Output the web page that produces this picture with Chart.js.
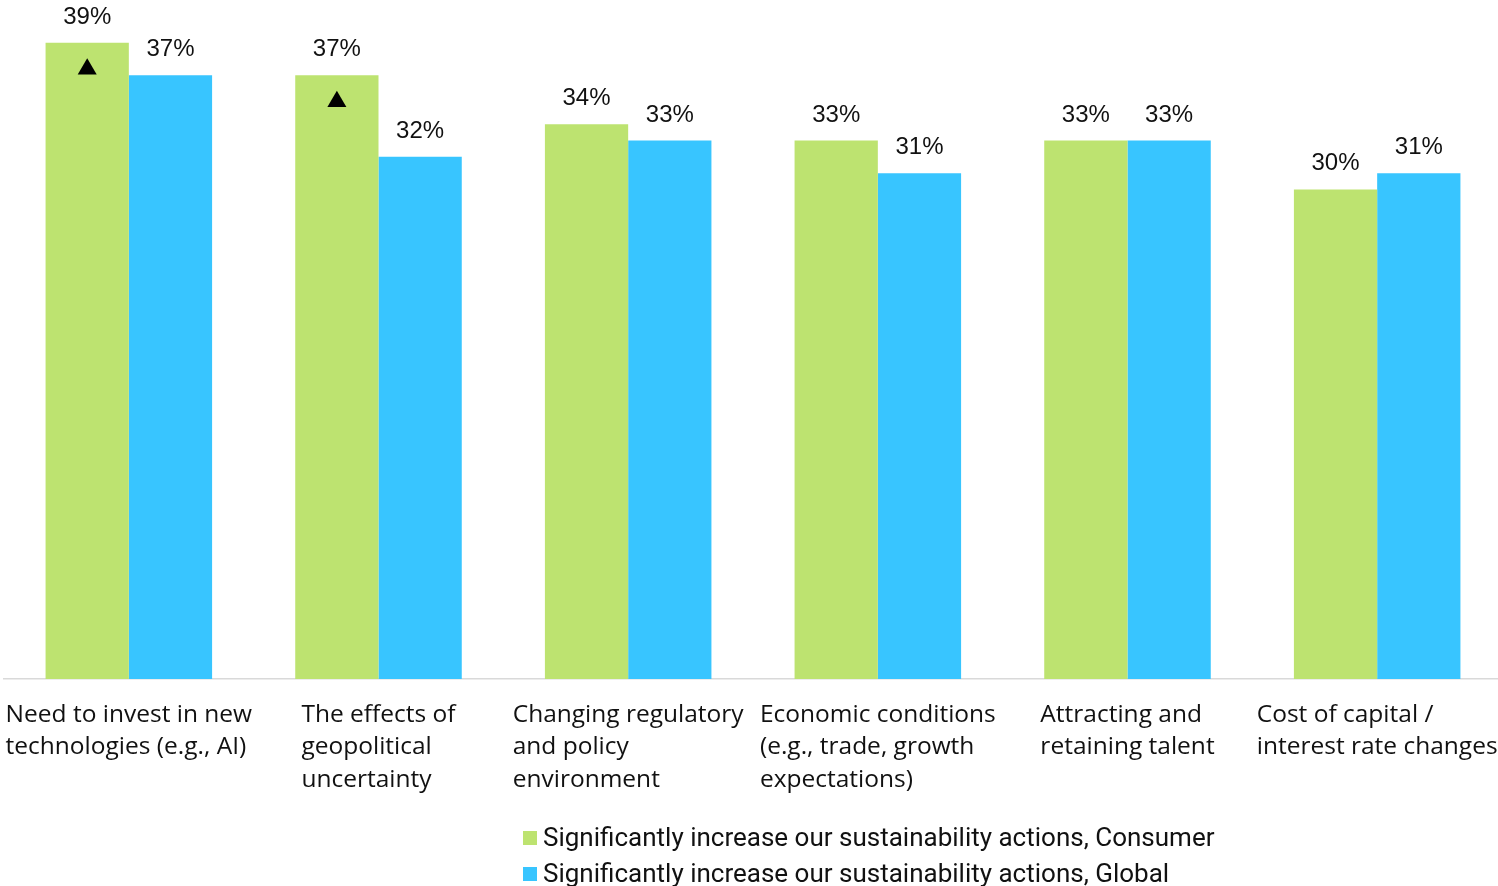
<!DOCTYPE html>
<html>
<head>
<meta charset="utf-8">
<script src="https://cdn.jsdelivr.net/npm/chart.js@4.4.1/dist/chart.umd.min.js"></script>
<style>
  html, body { margin: 0; padding: 0; background: #ffffff; overflow: hidden; }
  #wrap { position: relative; width: 1506px; height: 886px; }
</style>
</head>
<body>
<div id="wrap"><canvas id="chart" width="1506" height="886"></canvas></div>
<script>
// Category labels, one entry per line of text
const categories = [
  ["Need to invest in new", "technologies (e.g., AI)"],
  ["The effects of", "geopolitical", "uncertainty"],
  ["Changing regulatory", "and policy", "environment"],
  ["Economic conditions", "(e.g., trade, growth", "expectations)"],
  ["Attracting and", "retaining talent"],
  ["Cost of capital /", "interest rate changes"]
];
const seriesNames = [
  "Significantly increase our sustainability actions, Consumer",
  "Significantly increase our sustainability actions, Global"
];
const consumerValues = [39, 37, 34, 33, 33, 30];
const globalValues = [37, 32, 33, 31, 33, 31];
// Consumer results significantly higher than Global
const consumerHigher = [true, true, false, false, false, false];

const GREEN = "#BDE370";
const BLUE = "#38C5FF";
const TEXT = "#111111";
const LABEL_FONT = "24px 'Liberation Sans', Arial, sans-serif";
const CAT_FONT = "24.5px 'Open Sans', sans-serif";
const LEGEND_FONT = "26px 'Roboto', sans-serif";

const annotate = {
  id: "annotate",
  afterDatasetsDraw(chart) {
    const ctx = chart.ctx;
    ctx.save();
    // value labels above bars
    ctx.font = LABEL_FONT;
    ctx.fillStyle = TEXT;
    ctx.textAlign = "center";
    ctx.textBaseline = "alphabetic";
    chart.data.datasets.forEach((ds, di) => {
      const meta = chart.getDatasetMeta(di);
      meta.data.forEach((bar, i) => {
        ctx.fillText(ds.data[i] + "%", bar.x, bar.y - 19);
      });
    });
    // significance markers inside Consumer bars
    const cMeta = chart.getDatasetMeta(0);
    cMeta.data.forEach((bar, i) => {
      if (!consumerHigher[i]) return;
      const top = bar.y + 15.5, h = 16.3, w = 19;
      ctx.beginPath();
      ctx.moveTo(bar.x, top);
      ctx.lineTo(bar.x + w / 2, top + h);
      ctx.lineTo(bar.x - w / 2, top + h);
      ctx.closePath();
      ctx.fillStyle = "#000000";
      ctx.fill();
    });
    // category labels: block centred on category, lines left-aligned
    const xs = chart.scales.x;
    const base = chart.chartArea.bottom;
    ctx.font = CAT_FONT;
    ctx.fillStyle = TEXT;
    ctx.textAlign = "left";
    categories.forEach((lines, i) => {
      const cx = xs.getPixelForValue(i);
      const maxW = Math.max(...lines.map(l => ctx.measureText(l).width));
      const left = cx - maxW / 2;
      lines.forEach((line, li) => {
        ctx.fillText(line, left, base + 42.5 + li * 32.5);
      });
    });
    // legend, two rows
    const colors = [GREEN, BLUE];
    ctx.font = LEGEND_FONT;
    ctx.textBaseline = "middle";
    seriesNames.forEach((name, k) => {
      const cy = 838 + k * 36;
      ctx.fillStyle = colors[k];
      ctx.fillRect(523, cy - 7, 14, 14);
      ctx.fillStyle = TEXT;
      ctx.fillText(name, 543, cy + 1);
    });
    ctx.restore();
  }
};

new Chart(document.getElementById("chart"), {
  type: "bar",
  data: {
    labels: categories,
    datasets: [
      { label: seriesNames[0], data: consumerValues, backgroundColor: GREEN, borderWidth: 0,
        categoryPercentage: 0.667, barPercentage: 1.0 },
      { label: seriesNames[1], data: globalValues, backgroundColor: BLUE, borderWidth: 0,
        categoryPercentage: 0.667, barPercentage: 1.0 }
    ]
  },
  options: {
    responsive: false,
    animation: false,
    devicePixelRatio: 1,
    layout: { padding: { left: 4, right: 4, top: 10, bottom: 0 } },
    plugins: { legend: { display: false }, tooltip: { enabled: false } },
    scales: {
      x: {
        ticks: { display: false },
        grid: { display: false },
        border: { display: true, color: "#D9D9D9", width: 1.5 },
        afterFit(scale) { scale.height = 207; }
      },
      y: { display: false, min: 0, max: 41 }
    }
  },
  plugins: [annotate]
});
</script>
</body>
</html>
